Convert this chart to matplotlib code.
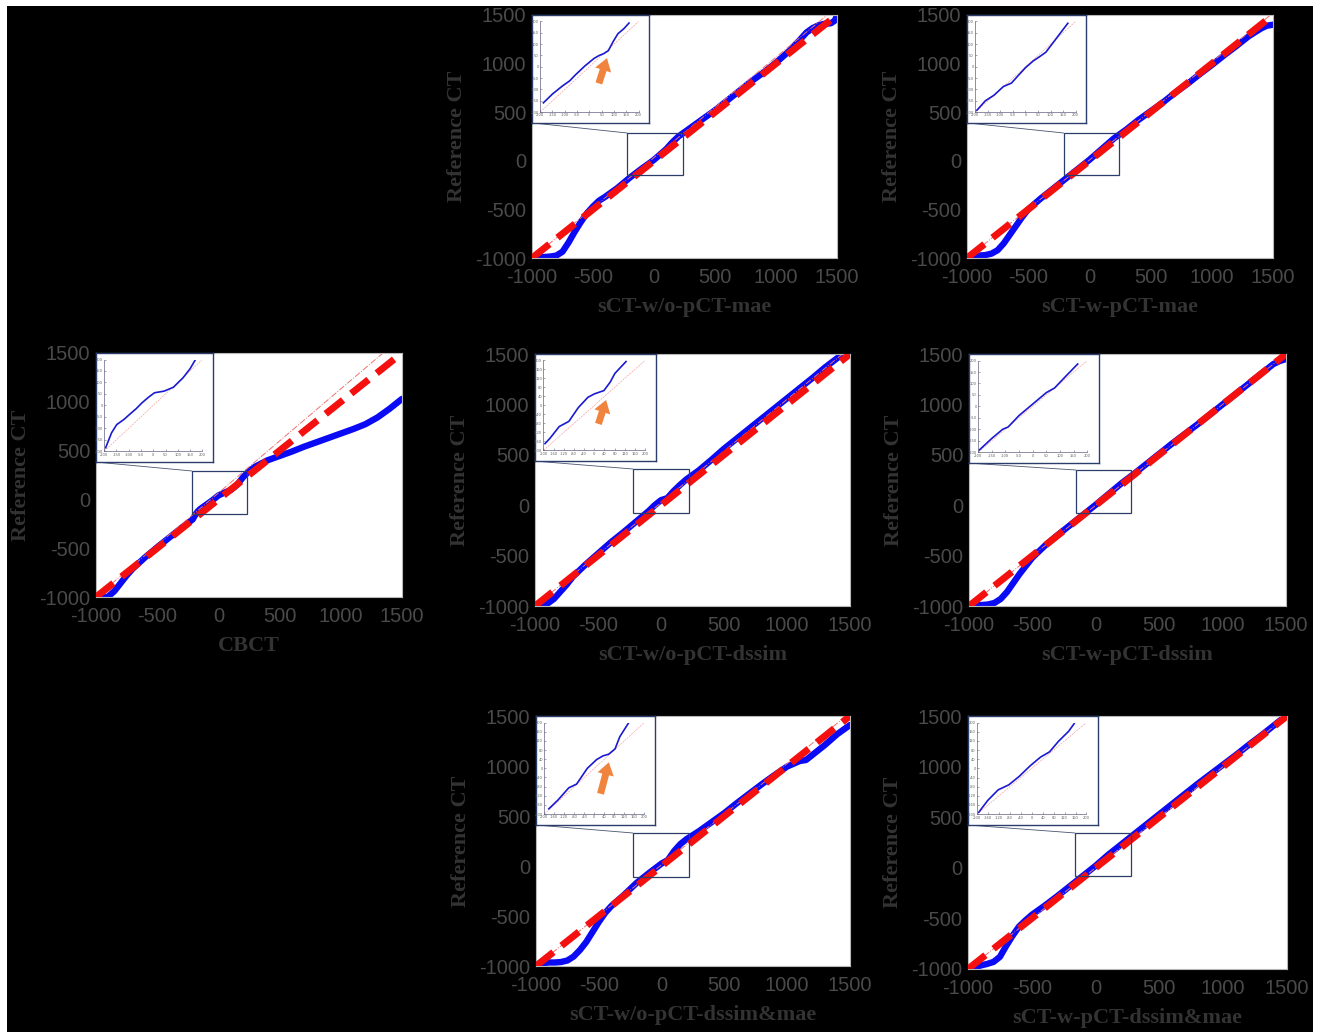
import numpy as np
import matplotlib
matplotlib.use('Agg')
import matplotlib.pyplot as plt
from matplotlib.patches import Rectangle, ConnectionPatch

plt.rcParams['axes.unicode_minus'] = False

# ---------------- data ----------------
panel_names = ['sCT-w/o-pCT-mae', 'sCT-w-pCT-mae', 'CBCT', 'sCT-w/o-pCT-dssim',
               'sCT-w-pCT-dssim', 'sCT-w/o-pCT-dssim&mae', 'sCT-w-pCT-dssim&mae']

main_ticks = [-1000, -500, 0, 500, 1000, 1500]

mae_wo_x = [-1000, -950, -900, -850, -800, -750, -700, -650, -600, -550, -500, -450, -400, -300, -200, -100, 0, 100, 150, 200,
            300, 400, 500, 600, 700, 800, 900, 1000, 1100, 1200, 1250, 1300, 1350, 1400, 1450, 1480, 1500]
mae_wo_y = [-1000, -995, -990, -985, -975, -935, -840, -730, -630, -540, -470, -410, -370, -280, -175, -80, 10, 120, 190, 250,
            340, 430, 520, 620, 720, 820, 910, 1010, 1120, 1250, 1320, 1365, 1395, 1410, 1415, 1440, 1490]

mae_w_x = [-1000, -950, -900, -850, -800, -750, -700, -650, -600, -550, -500, -400, -300, -200, -100, 0, 100, 200, 300, 400,
           500, 600, 700, 800, 900, 1000, 1100, 1200, 1300, 1400, 1450, 1500]
mae_w_y = [-1000, -985, -975, -970, -955, -920, -850, -760, -670, -580, -500, -390, -290, -190, -90, 10, 120, 230, 320, 420,
           510, 600, 700, 790, 890, 985, 1085, 1180, 1280, 1360, 1390, 1400]

cbct_x = [-1000, -950, -900, -850, -800, -750, -700, -600, -500, -400, -300, -210, -190, -170, -150, -100, -50, 0, 50, 100,
          150, 200, 250, 300, 400, 500, 600, 700, 800, 900, 1000, 1100, 1200, 1300, 1400, 1500]
cbct_y = [-1010, -1010, -995, -940, -860, -780, -710, -595, -490, -390, -290, -205, -160, -125, -100, -55, -10, 40, 70, 95,
          145, 225, 290, 335, 400, 445, 490, 540, 585, 630, 675, 720, 770, 840, 930, 1030]

dssim_wo_x = [-1000, -950, -900, -850, -800, -750, -700, -600, -500, -400, -300, -200, -100, -50, 0, 50, 100, 150, 200, 300,
              400, 500, 600, 700, 800, 900, 1000, 1100, 1200, 1300, 1400, 1450, 1500]
dssim_wo_y = [-1010, -1000, -975, -930, -860, -790, -710, -590, -480, -370, -270, -165, -60, 0, 50, 70, 140, 200, 255, 345,
              450, 560, 660, 760, 860, 960, 1060, 1160, 1260, 1365, 1460, 1510, 1560]

dssim_w_x = [-1000, -950, -900, -850, -800, -750, -700, -650, -600, -550, -500, -400, -300, -200, -100, 0, 100, 200, 300, 400,
             500, 600, 700, 800, 900, 1000, 1100, 1200, 1300, 1400, 1450, 1500]
dssim_w_y = [-1000, -995, -990, -985, -970, -930, -860, -770, -680, -600, -520, -400, -295, -195, -95, 5, 110, 215, 310, 410,
             510, 610, 705, 800, 900, 1000, 1100, 1200, 1300, 1400, 1430, 1450]

dm_wo_x = [-1000, -950, -900, -850, -800, -750, -700, -650, -600, -550, -500, -450, -400, -300, -200, -100, 0, 50, 100, 150,
           200, 300, 400, 500, 600, 700, 800, 900, 1000, 1100, 1150, 1200, 1300, 1400, 1500]
dm_wo_y = [-1000, -975, -965, -965, -960, -945, -905, -840, -760, -660, -560, -470, -400, -290, -170, -70, 25, 60, 150, 220,
           270, 350, 440, 530, 630, 725, 820, 910, 995, 1050, 1060, 1110, 1210, 1320, 1410]

dm_w_x = [-1000, -950, -900, -850, -800, -750, -700, -650, -600, -550, -500, -400, -300, -200, -100, 0, 100, 200, 300, 400,
          500, 600, 700, 800, 900, 1000, 1100, 1200, 1300, 1400, 1500]
dm_w_y = [-1010, -990, -965, -950, -930, -880, -770, -670, -580, -520, -465, -375, -280, -180, -80, 20, 130, 230, 330, 430,
          530, 630, 730, 830, 925, 1020, 1115, 1215, 1310, 1410, 1510]

# zoomed (inset) curves
ins_mae_wo_x = [-187, -150, -110, -80, -58, -19, 19, 40, 58, 77, 97, 116, 140, 161]
ins_mae_wo_y = [-159, -120, -85, -62, -37, 3, 37, 50, 58, 71, 112, 146, 168, 193]
ins_mae_w_x = [-194, -160, -125, -88, -56, -30, 0, 30, 62, 81, 112, 140, 169]
ins_mae_w_y = [-192, -150, -125, -87, -72, -40, -4, 25, 49, 64, 109, 150, 192]
ins_cbct_x = [-194, -170, -149, -120, -97, -70, -46, -20, 5, 44, 82, 100, 121, 150, 172]
ins_cbct_y = [-185, -120, -84, -62, -40, -15, 11, 35, 55, 62, 79, 98, 120, 160, 200]
ins_dssim_wo_x = [-194, -175, -138, -100, -63, -25, 0, 38, 63, 81, 100, 125]
ins_dssim_wo_y = [-170, -147, -94, -71, -10, 36, 51, 66, 104, 142, 165, 195]
ins_dssim_w_x = [-195, -150, -110, -90, -50, 0, 50, 80, 120, 165]
ins_dssim_w_y = [-190, -140, -100, -90, -40, 10, 60, 80, 130, 185]
ins_dm_wo_x = [-182, -145, -102, -71, -28, 9, 34, 58, 83, 102, 138]
ins_dm_wo_y = [-177, -138, -85, -69, 0, 38, 54, 62, 85, 138, 200]
ins_dm_w_x = [-194, -161, -123, -84, -45, -6, 32, 65, 97, 135, 155]
ins_dm_w_y = [-192, -140, -94, -72, -34, 11, 49, 72, 117, 162, 195]

inset_xticks_50 = [-200, -150, -100, -50, 0, 50, 100, 150, 200]
inset_xticks_40 = [-200, -160, -120, -80, -40, 0, 40, 80, 120, 160, 200]

# zoom rectangles [x0, x1, y0, y1] in data units
zoom_rects = [[-220, 238, -146, 286], [-210, 242, -146, 286], [-216, 234, -150, 291],
              [-222, 222, -77, 359], [-156, 278, -77, 349], [-228, 218, -110, 330],
              [-161, 277, -81, 344]]

# thin reference line: x where it reaches the top (y = 1500)
thin_top_x = [1420, 1480, 1345, 1440, 1500, 1470, 1500]

# arrows (tail x, tail y, tip x, tip y) in inset units
arrows = [(35, -85, 75, 50), None, None, (13, -94, 50, 36), None, (22, -123, 61, 38), None]

curves = [(mae_wo_x, mae_wo_y), (mae_w_x, mae_w_y), (cbct_x, cbct_y), (dssim_wo_x, dssim_wo_y),
          (dssim_w_x, dssim_w_y), (dm_wo_x, dm_wo_y), (dm_w_x, dm_w_y)]
inset_curves = [(ins_mae_wo_x, ins_mae_wo_y), (ins_mae_w_x, ins_mae_w_y), (ins_cbct_x, ins_cbct_y),
                (ins_dssim_wo_x, ins_dssim_wo_y), (ins_dssim_w_x, ins_dssim_w_y),
                (ins_dm_wo_x, ins_dm_wo_y), (ins_dm_w_x, ins_dm_w_y)]
inset_ticks = [inset_xticks_50, inset_xticks_50, inset_xticks_50, inset_xticks_40,
               inset_xticks_50, inset_xticks_40, inset_xticks_40]

# ---------------- layout (pixels) ----------------
W, H = 1326, 1032
boxes = [(532, 15, 837, 258), (967, 15, 1273, 258), (96, 353, 402, 597),
         (535, 354, 850, 606), (969, 354, 1286, 606), (536, 716, 850, 966),
         (968, 716, 1287, 969)]
inset_bottom = [0.556, 0.556, 0.553, 0.575, 0.567, 0.564, 0.569]
inset_width = [0.384, 0.39, 0.382, 0.384, 0.41, 0.379, 0.408]

TICK_C = '#4a4a4a'
LAB_C = '#333333'
NAVY = '#2b3d6b'

fig = plt.figure(figsize=(W / 100, H / 100), dpi=100)
fig.patch.set_facecolor('black')
for r in [(0, 0, 7 / W, 1), (0, 1 - 6 / H, 1, 6 / H), (1313 / W, 0, 13 / W, 1)]:
    fig.add_artist(Rectangle(r[:2], r[2], r[3], transform=fig.transFigure,
                             facecolor='white', edgecolor='none', zorder=-5))

for i, name in enumerate(panel_names):
    l, t, r, b = boxes[i]
    ax = fig.add_axes([l / W, 1 - b / H, (r - l) / W, (b - t) / H])
    ax.set_facecolor('white')
    cx, cy = curves[i]
    ax.plot(cx, cy, color='#0a0af5', lw=4.6, solid_joinstyle='round', solid_capstyle='round', zorder=2)
    ax.plot([-1000, thin_top_x[i]], [-1000, 1500], color='#f07070', lw=0.7, ls='-.', zorder=2.5)
    ax.plot([-1000, 1500], [-1000, 1500], color='#f51010', lw=5.0, dashes=(3.2, 1.5), zorder=3)
    ax.set_xlim(-1000, 1500)
    ax.set_ylim(-1000, 1500)
    ax.set_xticks(main_ticks)
    ax.set_yticks(main_ticks)
    ax.tick_params(direction='in', length=0, labelsize=14.5, labelcolor=TICK_C)
    ax.tick_params(axis='x', pad=7)
    ax.tick_params(axis='y', pad=4)
    for lab in ax.get_xticklabels() + ax.get_yticklabels():
        lab.set_family(['Liberation Sans', 'DejaVu Sans'])
    for s in ax.spines.values():
        s.set_color('#b8b8b8')
        s.set_linewidth(0.8)
    ax.set_xlabel(name, fontsize=16, fontweight='bold', family=['Liberation Serif', 'DejaVu Serif'],
                  color=LAB_C, va='center')
    ax.set_ylabel('Reference CT', fontsize=16, fontweight='bold', family=['Liberation Serif', 'DejaVu Serif'],
                  color=LAB_C, va='center')
    ax.xaxis.set_label_coords(0.5, -49 / (b - t))
    ax.yaxis.set_label_coords(-75 / (r - l), 0.5)

    # zoom rectangle
    x0, x1, y0, y1 = zoom_rects[i]
    ax.add_patch(Rectangle((x0, y0), x1 - x0, y1 - y0, fill=False, edgecolor=NAVY, lw=0.9, zorder=4))

    # inset
    ib, iw = inset_bottom[i], inset_width[i]
    outer = ax.inset_axes([0, ib, iw, 1 - ib], zorder=5)
    outer.set_facecolor('white')
    outer.set_xticks([])
    outer.set_yticks([])
    for s in outer.spines.values():
        s.set_color(NAVY)
        s.set_linewidth(1.0)
    con = ConnectionPatch(xyA=(0, ib), coordsA='axes fraction', axesA=ax,
                          xyB=(x0, y1), coordsB='data', axesB=ax,
                          color='#4a5470', lw=0.6, zorder=4)
    ax.add_artist(con)

    inner = outer.inset_axes([0.07, 0.1, 0.84, 0.84])
    inner.set_facecolor('none')
    ix, iy = inset_curves[i]
    inner.plot([-200, 200], [-200, 200], color='#f06060', lw=0.4, ls='--', alpha=0.7)
    inner.plot(ix, iy, color='#1a1ad0', lw=1.2, solid_joinstyle='round')
    inner.set_xlim(-200, 200)
    inner.set_ylim(-200, 200)
    inner.set_xticks(inset_ticks[i])
    inner.set_yticks(inset_ticks[i])
    inner.tick_params(direction='in', length=1.5, width=0.4, color='#606080',
                      labelsize=2.6, labelcolor='#606060', pad=1)
    inner.spines['top'].set_visible(False)
    inner.spines['right'].set_visible(False)
    for s in ['left', 'bottom']:
        inner.spines[s].set_color('#606080')
        inner.spines[s].set_linewidth(0.5)

    if arrows[i] is not None:
        tx, ty, hx, hy = arrows[i]
        inner.annotate('', xy=(hx, hy), xytext=(tx, ty),
                       arrowprops=dict(arrowstyle='simple,head_length=0.75,head_width=1.0,tail_width=0.42',
                                       color='#f0843f', lw=0, mutation_scale=12))

fig.savefig('out.png', dpi=100, facecolor=fig.get_facecolor())
